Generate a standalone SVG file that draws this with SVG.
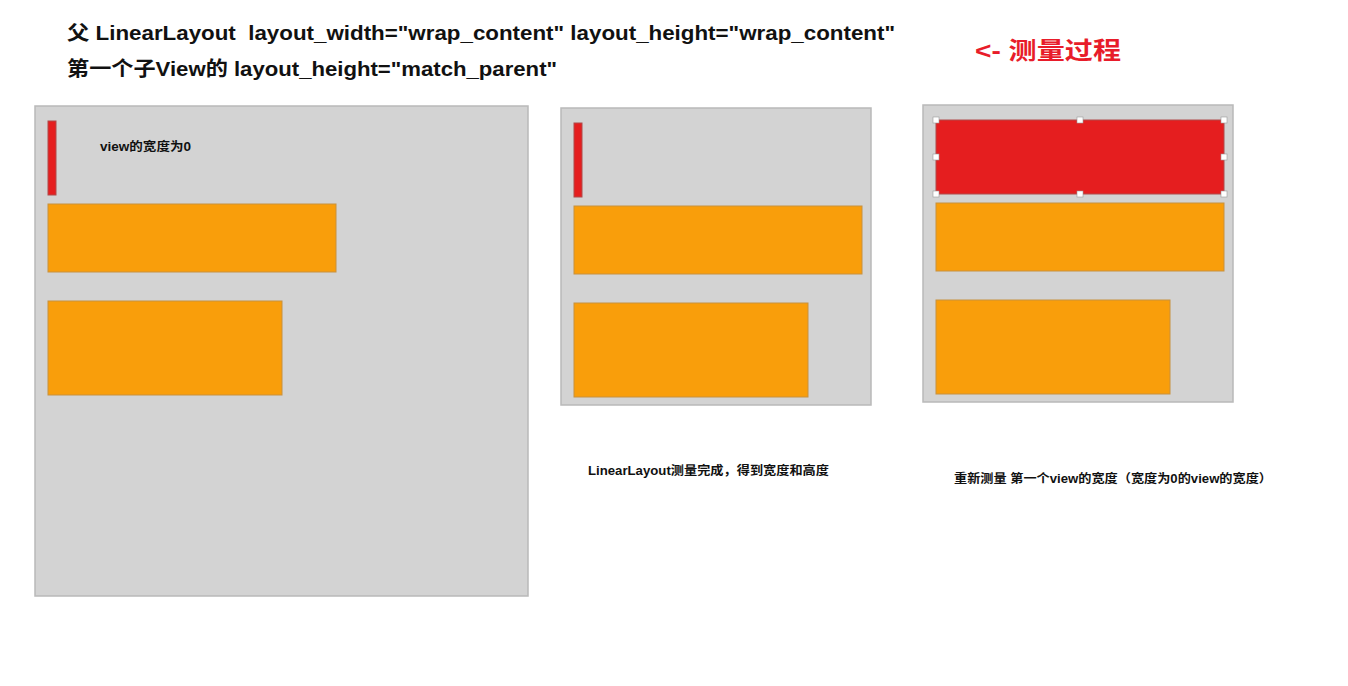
<svg xmlns="http://www.w3.org/2000/svg" width="1348" height="686" viewBox="0 0 1348 686">
  <style>
    .panel { fill: #d3d3d3; stroke: #b9b9b9; stroke-width: 1.5; }
    .bar-red { fill: #e51e1f; stroke: #b04a4a; stroke-width: 1; }
    .bar-orange { fill: #f99e0b; stroke: #c8913f; stroke-width: 1; }
    .handle { fill: #ffffff; stroke: #9a9a9a; stroke-width: 0.6; }
    .title { font-family: "Liberation Sans", "Noto Sans CJK SC", sans-serif; font-weight: bold; font-size: 20px; fill: #111; white-space: pre; }
    .note { font-family: "Liberation Sans", "Noto Sans CJK SC", sans-serif; font-weight: bold; font-size: 12px; fill: #111; }
    .accent { font-family: "Liberation Sans", "Noto Sans CJK SC", sans-serif; font-weight: bold; font-size: 24px; fill: #e81c2a; }
  </style>

  <rect width="1348" height="686" fill="#ffffff"/>

  <!-- headings -->
  <g id="heading">
    <text class="title" x="67" y="40" textLength="828" lengthAdjust="spacingAndGlyphs" xml:space="preserve">父 LinearLayout  layout_width="wrap_content" layout_height="wrap_content"</text>
    <text class="title" x="67" y="76" textLength="490" lengthAdjust="spacingAndGlyphs">第一个子View的 layout_height="match_parent"</text>
  </g>
  <g id="step-label">
    <text class="accent" x="975" y="59" textLength="146" lengthAdjust="spacingAndGlyphs">&lt;- 测量过程</text>
  </g>

  <!-- stage 1: child with zero width -->
  <g id="stage1">
    <rect class="panel" x="35" y="106" width="493" height="490"/>
    <rect class="bar-red" x="48" y="121" width="8" height="74"/>
    <rect class="bar-orange" x="48" y="204" width="288" height="68"/>
    <rect class="bar-orange" x="48" y="301" width="234" height="94"/>
    <text class="note" x="100" y="151" textLength="91" lengthAdjust="spacingAndGlyphs">view的宽度为0</text>
  </g>

  <!-- stage 2: parent measured -->
  <g id="stage2">
    <rect class="panel" x="561" y="108" width="310" height="297"/>
    <rect class="bar-red" x="574" y="123" width="8" height="74"/>
    <rect class="bar-orange" x="574" y="206" width="288" height="68"/>
    <rect class="bar-orange" x="574" y="303" width="234" height="94"/>
    <text class="note" x="588" y="475" textLength="241" lengthAdjust="spacingAndGlyphs">LinearLayout测量完成，得到宽度和高度</text>
  </g>

  <!-- stage 3: first child re-measured -->
  <g id="stage3">
    <rect class="panel" x="923" y="105" width="310" height="297"/>
    <rect class="bar-red" x="936" y="120" width="288" height="74"/>
    <rect class="bar-orange" x="936" y="203" width="288" height="68"/>
    <rect class="bar-orange" x="936" y="300" width="234" height="94"/>
    <g id="selection-handles">
      <rect class="handle" x="933" y="117" width="6" height="6"/>
      <rect class="handle" x="1077" y="117" width="6" height="6"/>
      <rect class="handle" x="1221" y="117" width="6" height="6"/>
      <rect class="handle" x="933" y="154" width="6" height="6"/>
      <rect class="handle" x="1221" y="154" width="6" height="6"/>
      <rect class="handle" x="933" y="191" width="6" height="6"/>
      <rect class="handle" x="1077" y="191" width="6" height="6"/>
      <rect class="handle" x="1221" y="191" width="6" height="6"/>
    </g>
    <text class="note" x="954" y="483" textLength="318" lengthAdjust="spacingAndGlyphs">重新测量 第一个view的宽度（宽度为0的view的宽度）</text>
  </g>

  <!-- no connectors in this figure -->
  <g id="connectors"/>
</svg>
